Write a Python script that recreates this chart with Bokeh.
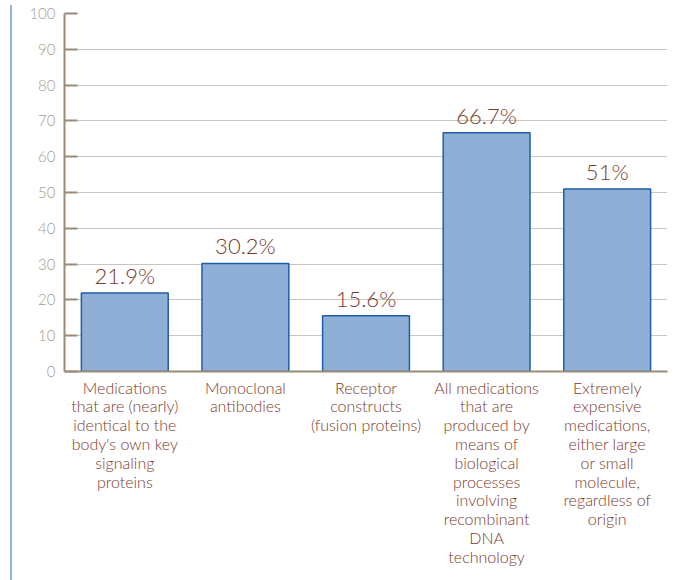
from bokeh.plotting import figure
from bokeh.models import ColumnDataSource, Div, FixedTicker, Range1d
from bokeh.layouts import column
from bokeh.core.properties import value
from bokeh.embed import file_html
from bokeh.resources import INLINE

categories = [
    "Medications\nthat are (nearly)\nidentical to the\nbody's own key\nsignaling\nproteins",
    "Monoclonal\nantibodies",
    "Receptor\nconstructs\n(fusion proteins)",
    "All medications\nthat are\nproduced by\nmeans of\nbiological\nprocesses\ninvolving\nrecombinant\nDNA\ntechnology",
    "Extremely\nexpensive\nmedications,\neither large\nor small\nmolecule,\nregardless of\norigin",
]
values = [21.9, 30.2, 15.6, 66.7, 51]
value_labels = ["21.9%", "30.2%", "15.6%", "66.7%", "51%"]
y_ticks = [0, 10, 20, 30, 40, 50, 60, 70, 80, 90, 100]

FONT = "Lato Light, Lato"
src = ColumnDataSource(dict(cat=categories, val=values, lab=value_labels))

p = figure(x_range=categories, y_range=Range1d(0, 100), width=678, height=572,
           output_backend="svg", toolbar_location=None,
           min_border_left=64, min_border_right=11, min_border_top=13, min_border_bottom=201)
p.outline_line_color = None

p.vbar(x="cat", top="val", width=0.72, source=src,
       fill_color="#8fafd7", line_color="#1d5ea8", line_width=1.5)
p.text(x="cat", y="val", text="lab", source=src, text_align="center",
       text_baseline="bottom", y_offset=-4, text_color="#7b3a2d",
       text_font=value(FONT), text_font_size="22px")

p.xgrid.grid_line_color = None
p.ygrid.grid_line_color = "#cbc4bc"
p.ygrid.grid_line_width = 1
p.yaxis.ticker = FixedTicker(ticks=y_ticks)
p.yaxis.minor_tick_line_color = None
p.yaxis.major_tick_in = 13
p.yaxis.major_tick_out = 0
p.yaxis.major_tick_line_color = "#9a8b78"
p.yaxis.major_tick_line_width = 2
p.yaxis.axis_line_color = "#9a8b78"
p.yaxis.axis_line_width = 2
p.yaxis.major_label_text_color = "#a59c92"
p.yaxis.major_label_text_font = FONT
p.yaxis.major_label_text_font_size = "15px"
p.yaxis.major_label_standoff = 9

p.xaxis.major_tick_line_color = None
p.xaxis.axis_line_color = "#9a8b78"
p.xaxis.axis_line_width = 2
p.xaxis.major_label_text_color = "#7b3a2d"
p.xaxis.major_label_text_font = FONT
p.xaxis.major_label_text_font_size = "16px"
p.xaxis.major_label_text_line_height = 0.99
p.xaxis.major_label_standoff = 0

bar = Div(text="", width=1, height=1,
          styles={"position": "fixed", "left": "5px", "top": "0px",
                  "width": "2px", "height": "580px", "background-color": "#8fb1da"})

layout = column(p, bar)
open("out.html", "w").write(file_html(layout, INLINE))
